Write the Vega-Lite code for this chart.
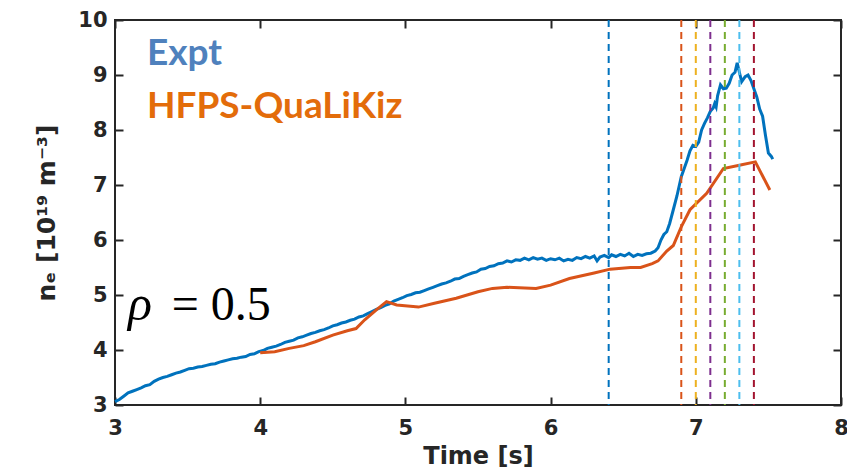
{
  "$schema": "https://vega.github.io/schema/vega-lite/v6.json",
  "width": 726,
  "height": 385,
  "autosize": {"type": "none"},
  "padding": {"left": 115, "top": 20, "right": 6, "bottom": 67},
  "background": "white",
  "config": {
    "view": {"stroke": "#262626", "strokeWidth": 2},
    "axis": {
      "grid": false,
      "domain": false,
      "offset": -8,
      "tickColor": "#262626",
      "tickWidth": 2,
      "tickSize": 8,
      "labelFont": "DejaVu Sans",
      "labelFontWeight": "bold",
      "labelFontSize": 21,
      "labelColor": "#262626",
      "titleFont": "DejaVu Sans",
      "titleFontWeight": "bold",
      "titleFontSize": 24,
      "titleColor": "#262626"
    }
  },
  "datasets": {
    "expt": [
      {"t": 3.00, "ne": 3.06}, {"t": 3.03, "ne": 3.10}, {"t": 3.06, "ne": 3.16}, {"t": 3.09, "ne": 3.22},
      {"t": 3.12, "ne": 3.25}, {"t": 3.15, "ne": 3.28}, {"t": 3.18, "ne": 3.31}, {"t": 3.21, "ne": 3.35},
      {"t": 3.24, "ne": 3.37}, {"t": 3.27, "ne": 3.43}, {"t": 3.30, "ne": 3.47}, {"t": 3.33, "ne": 3.50},
      {"t": 3.36, "ne": 3.52}, {"t": 3.39, "ne": 3.55}, {"t": 3.42, "ne": 3.58}, {"t": 3.45, "ne": 3.60},
      {"t": 3.48, "ne": 3.63}, {"t": 3.51, "ne": 3.66}, {"t": 3.54, "ne": 3.67}, {"t": 3.57, "ne": 3.69},
      {"t": 3.60, "ne": 3.70}, {"t": 3.63, "ne": 3.72}, {"t": 3.66, "ne": 3.74}, {"t": 3.69, "ne": 3.75},
      {"t": 3.72, "ne": 3.78}, {"t": 3.75, "ne": 3.80}, {"t": 3.78, "ne": 3.82}, {"t": 3.81, "ne": 3.84},
      {"t": 3.84, "ne": 3.85}, {"t": 3.87, "ne": 3.87}, {"t": 3.90, "ne": 3.88}, {"t": 3.93, "ne": 3.92},
      {"t": 3.96, "ne": 3.93}, {"t": 3.99, "ne": 3.97}, {"t": 4.02, "ne": 3.99}, {"t": 4.05, "ne": 4.03},
      {"t": 4.08, "ne": 4.05}, {"t": 4.11, "ne": 4.07}, {"t": 4.14, "ne": 4.10}, {"t": 4.17, "ne": 4.14},
      {"t": 4.20, "ne": 4.16}, {"t": 4.23, "ne": 4.18}, {"t": 4.26, "ne": 4.22}, {"t": 4.29, "ne": 4.24},
      {"t": 4.32, "ne": 4.27}, {"t": 4.35, "ne": 4.30}, {"t": 4.38, "ne": 4.32}, {"t": 4.41, "ne": 4.35},
      {"t": 4.44, "ne": 4.37}, {"t": 4.47, "ne": 4.40}, {"t": 4.50, "ne": 4.44}, {"t": 4.53, "ne": 4.46},
      {"t": 4.56, "ne": 4.49}, {"t": 4.59, "ne": 4.51}, {"t": 4.62, "ne": 4.54}, {"t": 4.65, "ne": 4.56},
      {"t": 4.68, "ne": 4.60}, {"t": 4.71, "ne": 4.62}, {"t": 4.74, "ne": 4.66}, {"t": 4.77, "ne": 4.70},
      {"t": 4.80, "ne": 4.74}, {"t": 4.83, "ne": 4.77}, {"t": 4.86, "ne": 4.81}, {"t": 4.89, "ne": 4.84},
      {"t": 4.92, "ne": 4.89}, {"t": 4.95, "ne": 4.92}, {"t": 4.98, "ne": 4.95}, {"t": 5.01, "ne": 4.99},
      {"t": 5.04, "ne": 5.01}, {"t": 5.07, "ne": 5.04}, {"t": 5.10, "ne": 5.05}, {"t": 5.13, "ne": 5.08},
      {"t": 5.16, "ne": 5.11}, {"t": 5.19, "ne": 5.14}, {"t": 5.22, "ne": 5.17}, {"t": 5.25, "ne": 5.20},
      {"t": 5.28, "ne": 5.22}, {"t": 5.31, "ne": 5.25}, {"t": 5.34, "ne": 5.29}, {"t": 5.37, "ne": 5.30},
      {"t": 5.40, "ne": 5.34}, {"t": 5.43, "ne": 5.37}, {"t": 5.46, "ne": 5.40}, {"t": 5.49, "ne": 5.42},
      {"t": 5.52, "ne": 5.47}, {"t": 5.55, "ne": 5.48}, {"t": 5.58, "ne": 5.52}, {"t": 5.61, "ne": 5.53},
      {"t": 5.64, "ne": 5.57}, {"t": 5.67, "ne": 5.58}, {"t": 5.70, "ne": 5.62}, {"t": 5.73, "ne": 5.60},
      {"t": 5.76, "ne": 5.64}, {"t": 5.79, "ne": 5.63}, {"t": 5.82, "ne": 5.67}, {"t": 5.85, "ne": 5.64},
      {"t": 5.88, "ne": 5.68}, {"t": 5.91, "ne": 5.65}, {"t": 5.94, "ne": 5.67}, {"t": 5.97, "ne": 5.63},
      {"t": 6.00, "ne": 5.66}, {"t": 6.03, "ne": 5.64}, {"t": 6.06, "ne": 5.67}, {"t": 6.09, "ne": 5.62},
      {"t": 6.12, "ne": 5.65}, {"t": 6.15, "ne": 5.63}, {"t": 6.18, "ne": 5.68}, {"t": 6.21, "ne": 5.66},
      {"t": 6.24, "ne": 5.70}, {"t": 6.27, "ne": 5.67}, {"t": 6.30, "ne": 5.71}, {"t": 6.32, "ne": 5.62},
      {"t": 6.34, "ne": 5.69}, {"t": 6.37, "ne": 5.72}, {"t": 6.40, "ne": 5.68}, {"t": 6.42, "ne": 5.73},
      {"t": 6.45, "ne": 5.70}, {"t": 6.48, "ne": 5.74}, {"t": 6.51, "ne": 5.71}, {"t": 6.54, "ne": 5.76},
      {"t": 6.57, "ne": 5.70}, {"t": 6.60, "ne": 5.74}, {"t": 6.63, "ne": 5.72}, {"t": 6.66, "ne": 5.75},
      {"t": 6.69, "ne": 5.76}, {"t": 6.72, "ne": 5.80}, {"t": 6.74, "ne": 5.86}, {"t": 6.76, "ne": 6.00},
      {"t": 6.78, "ne": 6.10}, {"t": 6.80, "ne": 6.15}, {"t": 6.82, "ne": 6.30}, {"t": 6.845, "ne": 6.55},
      {"t": 6.87, "ne": 6.80}, {"t": 6.90, "ne": 7.15}, {"t": 6.92, "ne": 7.30}, {"t": 6.94, "ne": 7.45},
      {"t": 6.96, "ne": 7.62}, {"t": 6.98, "ne": 7.72}, {"t": 7.00, "ne": 7.70}, {"t": 7.02, "ne": 7.78},
      {"t": 7.04, "ne": 8.00}, {"t": 7.06, "ne": 8.12}, {"t": 7.08, "ne": 8.22}, {"t": 7.10, "ne": 8.34},
      {"t": 7.12, "ne": 8.40}, {"t": 7.13, "ne": 8.48}, {"t": 7.14, "ne": 8.42}, {"t": 7.15, "ne": 8.62},
      {"t": 7.17, "ne": 8.82}, {"t": 7.19, "ne": 8.75}, {"t": 7.21, "ne": 8.76}, {"t": 7.23, "ne": 8.85},
      {"t": 7.25, "ne": 9.00}, {"t": 7.27, "ne": 9.05}, {"t": 7.285, "ne": 9.22}, {"t": 7.30, "ne": 9.05},
      {"t": 7.316, "ne": 8.88}, {"t": 7.34, "ne": 8.97}, {"t": 7.36, "ne": 9.00}, {"t": 7.38, "ne": 8.90},
      {"t": 7.40, "ne": 8.75}, {"t": 7.42, "ne": 8.60}, {"t": 7.44, "ne": 8.38}, {"t": 7.46, "ne": 8.25},
      {"t": 7.48, "ne": 7.90}, {"t": 7.50, "ne": 7.58}, {"t": 7.52, "ne": 7.52}, {"t": 7.53, "ne": 7.47}
    ],
    "model": [
      {"t": 4.00, "ne": 3.95}, {"t": 4.10, "ne": 3.97}, {"t": 4.20, "ne": 4.03}, {"t": 4.30, "ne": 4.08},
      {"t": 4.38, "ne": 4.15}, {"t": 4.50, "ne": 4.27}, {"t": 4.60, "ne": 4.35}, {"t": 4.66, "ne": 4.39},
      {"t": 4.72, "ne": 4.55}, {"t": 4.80, "ne": 4.73}, {"t": 4.87, "ne": 4.88}, {"t": 4.94, "ne": 4.82},
      {"t": 5.09, "ne": 4.78}, {"t": 5.20, "ne": 4.85}, {"t": 5.35, "ne": 4.94}, {"t": 5.50, "ne": 5.06},
      {"t": 5.60, "ne": 5.12}, {"t": 5.70, "ne": 5.14}, {"t": 5.90, "ne": 5.12}, {"t": 6.00, "ne": 5.18},
      {"t": 6.13, "ne": 5.30}, {"t": 6.30, "ne": 5.40}, {"t": 6.41, "ne": 5.47}, {"t": 6.55, "ne": 5.50},
      {"t": 6.62, "ne": 5.50}, {"t": 6.70, "ne": 5.57}, {"t": 6.74, "ne": 5.62}, {"t": 6.80, "ne": 5.80},
      {"t": 6.845, "ne": 5.90}, {"t": 6.90, "ne": 6.24}, {"t": 6.96, "ne": 6.55}, {"t": 7.075, "ne": 6.85},
      {"t": 7.19, "ne": 7.30}, {"t": 7.30, "ne": 7.36}, {"t": 7.41, "ne": 7.42}, {"t": 7.51, "ne": 6.91}
    ],
    "times": [
      {"t": 6.4, "k": "a"}, {"t": 6.9, "k": "b"}, {"t": 7.0, "k": "c"}, {"t": 7.1, "k": "d"},
      {"t": 7.2, "k": "e"}, {"t": 7.3, "k": "f"}, {"t": 7.4, "k": "g"}
    ]
  },
  "layer": [
    {
      "data": {"name": "expt"},
      "mark": {"type": "line", "color": "#0072BD", "strokeWidth": 3},
      "encoding": {
        "x": {"field": "t", "type": "quantitative", "scale": {"domain": [3, 8], "nice": false},
              "axis": {"orient": "bottom", "values": [3, 4, 5, 6, 7, 8], "title": "Time [s]", "labelPadding": 12, "titlePadding": 6, "labelFlush": false}},
        "y": {"field": "ne", "type": "quantitative", "scale": {"domain": [3, 10], "nice": false, "zero": false},
              "axis": {"orient": "left", "values": [3, 4, 5, 6, 7, 8, 9, 10], "title": "nₑ [10¹⁹ m⁻³]", "titleFontSize": 25, "labelPadding": 8, "titlePadding": 18, "labelFlush": false}}
      }
    },
    {
      "data": {"name": "model"},
      "mark": {"type": "line", "color": "#D95319", "strokeWidth": 3},
      "encoding": {
        "x": {"field": "t", "type": "quantitative", "scale": {"domain": [3, 8], "nice": false},
              "axis": {"orient": "top", "values": [3, 4, 5, 6, 7, 8], "labels": false, "title": null}},
        "y": {"field": "ne", "type": "quantitative", "scale": {"domain": [3, 10], "nice": false, "zero": false},
              "axis": {"orient": "right", "values": [3, 4, 5, 6, 7, 8, 9, 10], "labels": false, "title": null}}
      }
    },
    {
      "data": {"name": "times"},
      "mark": {"type": "rule", "strokeDash": [7, 5], "strokeWidth": 2},
      "encoding": {
        "x": {"field": "t", "type": "quantitative", "scale": {"domain": [3, 8], "nice": false}, "axis": null},
        "color": {"field": "k", "type": "nominal", "legend": null,
                  "scale": {"domain": ["a", "b", "c", "d", "e", "f", "g"],
                            "range": ["#0072BD", "#D95319", "#EDB120", "#7E2F8E", "#77AC30", "#4DBEEE", "#A2142F"]}}
      }
    },
    {
      "data": {"values": [{"t": 3.22, "ne": 9.18, "label": "Expt"}]},
      "mark": {"type": "text", "align": "left", "baseline": "alphabetic", "font": "Lato", "fontWeight": "bold", "fontSize": 37, "color": "#4F81BD"},
      "encoding": {
        "x": {"field": "t", "type": "quantitative", "scale": {"domain": [3, 8], "nice": false}, "axis": null},
        "y": {"field": "ne", "type": "quantitative", "scale": {"domain": [3, 10], "nice": false, "zero": false}, "axis": null},
        "text": {"field": "label"}
      }
    },
    {
      "data": {"values": [{"t": 3.22, "ne": 8.22, "label": "HFPS-QuaLiKiz"}]},
      "mark": {"type": "text", "align": "left", "baseline": "alphabetic", "font": "Lato", "fontWeight": "bold", "fontSize": 37, "color": "#E36C0A"},
      "encoding": {
        "x": {"field": "t", "type": "quantitative", "scale": {"domain": [3, 8], "nice": false}, "axis": null},
        "y": {"field": "ne", "type": "quantitative", "scale": {"domain": [3, 10], "nice": false, "zero": false}, "axis": null},
        "text": {"field": "label"}
      }
    },
    {
      "data": {"values": [{"t": 3.09, "ne": 4.545, "label": "ρ"}]},
      "mark": {"type": "text", "align": "left", "baseline": "alphabetic", "font": "Liberation Serif", "fontStyle": "italic", "fontSize": 50, "color": "#000000"},
      "encoding": {
        "x": {"field": "t", "type": "quantitative", "scale": {"domain": [3, 8], "nice": false}, "axis": null},
        "y": {"field": "ne", "type": "quantitative", "scale": {"domain": [3, 10], "nice": false, "zero": false}, "axis": null},
        "text": {"field": "label"}
      }
    },
    {
      "data": {"values": [{"t": 3.39, "ne": 4.545, "label": "= 0.5"}]},
      "mark": {"type": "text", "align": "left", "baseline": "alphabetic", "font": "Liberation Serif", "fontSize": 48, "color": "#000000"},
      "encoding": {
        "x": {"field": "t", "type": "quantitative", "scale": {"domain": [3, 8], "nice": false}, "axis": null},
        "y": {"field": "ne", "type": "quantitative", "scale": {"domain": [3, 10], "nice": false, "zero": false}, "axis": null},
        "text": {"field": "label"}
      }
    }
  ],
  "resolve": {"scale": {"x": "independent", "y": "independent", "color": "independent"}}
}
